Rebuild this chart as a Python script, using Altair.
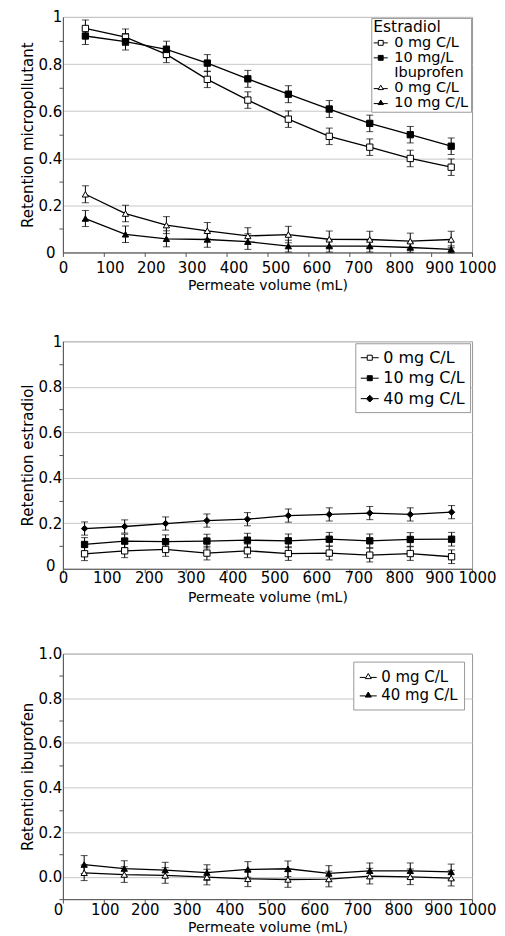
import altair as alt
import pandas as pd

FONT = "DejaVu Sans"

x_ticks = [0, 100, 200, 300, 400, 500, 600, 700, 800, 900, 1000]
y_ticks_a = [0.0, 0.1, 0.2, 0.3, 0.4, 0.5, 0.6, 0.7, 0.8, 0.9, 1.0]
y_ticks_b = [-0.1, 0.0, 0.1, 0.2, 0.3, 0.4, 0.5, 0.6, 0.7, 0.8, 0.9, 1.0]
x_title = "Permeate volume (mL)"

# ---------- Panel 1: micropollutant retention ----------
p1_x = [55, 153, 253, 353, 452, 551, 651, 750, 849, 949]
p1_estr_0 = [0.951, 0.914, 0.841, 0.735, 0.647, 0.566, 0.493, 0.447, 0.399, 0.362]
p1_estr_0_err = [0.036, 0.035, 0.035, 0.035, 0.035, 0.035, 0.035, 0.035, 0.035, 0.035]
p1_estr_10 = [0.919, 0.895, 0.862, 0.804, 0.737, 0.672, 0.609, 0.548, 0.500, 0.451]
p1_estr_10_err = [0.036, 0.035, 0.035, 0.036, 0.036, 0.036, 0.036, 0.035, 0.035, 0.035]
p1_ibu_0 = [0.247, 0.165, 0.116, 0.092, 0.070, 0.076, 0.056, 0.055, 0.048, 0.055]
p1_ibu_0_err = [0.036, 0.035, 0.036, 0.035, 0.035, 0.035, 0.035, 0.035, 0.034, 0.035]
p1_ibu_10 = [0.144, 0.077, 0.058, 0.055, 0.046, 0.027, 0.027, 0.027, 0.021, 0.013]
p1_ibu_10_err = [0.034, 0.035, 0.034, 0.033, 0.033, 0.025, 0.025, 0.025, 0.020, 0.015]
p1_legend_title = "Estradiol"
# legend entries (the trailing space keeps the two "0 mg C/L" entries distinct)
p1_legend_labels = ["0 mg C/L", "10 mg/L", "Ibuprofen", "0 mg C/L ", "10 mg C/L"]

# ---------- Panel 2: estradiol retention ----------
p2_x = [53, 151, 251, 352, 451, 551, 651, 750, 849, 950]
p2_0 = [0.066, 0.079, 0.085, 0.069, 0.079, 0.067, 0.069, 0.060, 0.067, 0.053]
p2_0_err = [0.030, 0.030, 0.030, 0.030, 0.030, 0.030, 0.030, 0.030, 0.030, 0.030]
p2_10 = [0.107, 0.122, 0.119, 0.122, 0.126, 0.123, 0.130, 0.123, 0.129, 0.130]
p2_10_err = [0.030, 0.030, 0.030, 0.030, 0.030, 0.030, 0.030, 0.030, 0.030, 0.030]
p2_40 = [0.177, 0.186, 0.199, 0.212, 0.218, 0.234, 0.239, 0.245, 0.239, 0.249]
p2_40_err = [0.029, 0.029, 0.029, 0.029, 0.029, 0.029, 0.029, 0.029, 0.029, 0.029]
p2_legend_labels = ["0 mg C/L", "10 mg C/L", "40 mg C/L"]

# ---------- Panel 3: ibuprofen retention ----------
p3_x = [52, 150, 250, 352, 452, 550, 650, 750, 849, 949]
p3_0 = [0.018, 0.010, 0.006, -0.001, -0.009, -0.012, -0.010, 0.003, 0.000, -0.006]
p3_0_err = [0.035, 0.035, 0.035, 0.035, 0.035, 0.035, 0.035, 0.035, 0.035, 0.035]
p3_40 = [0.055, 0.037, 0.030, 0.019, 0.033, 0.036, 0.015, 0.027, 0.027, 0.022]
p3_40_err = [0.040, 0.035, 0.035, 0.035, 0.035, 0.035, 0.035, 0.035, 0.035, 0.035]
p3_legend_labels = ["0 mg C/L\u00a0", "40 mg C/L\u00a0"]

# marker shapes
SQ = "square"
TRI = "triangle-up"
DIA = "diamond"
# legend symbols: marker with a line through it
L1_SQ = "M-1,0H-0.35M0.35,0H1M-0.35,-0.35H0.35V0.35H-0.35Z"
L1_TRI = "M-1,0.12H-0.32M0.32,0.12H1M0,-0.38L0.38,0.26H-0.38Z"
L_NONE = "M0,0"
L2_SQ = "M-1,0H-0.28M0.28,0H1M-0.28,-0.28H0.28V0.28H-0.28Z"
L2_DIA = "M-1,0H-0.38M0.38,0H1M0,-0.38L0.38,0L0,0.38L-0.38,0Z"
L3_TRI = "M-1,0.1H-0.32M0.32,0.1H1M0,-0.36L0.36,0.24H-0.36Z"

# small horizontal nudges of the x tick labels, as printed in the figure
P1_XLABEL_NUDGE = {100: 6, 200: 6, 300: 6, 400: 7, 500: 8, 600: 8, 700: 9, 800: 9, 900: 8, 1000: 5}
P2_XLABEL_NUDGE = {100: 3, 200: 4, 300: 5, 400: 6, 500: 7, 600: 8, 700: 9, 800: 9, 900: 8, 1000: 5}
P3_XLABEL_NUDGE = {0: -5, 100: 1, 300: 1, 400: 3, 500: 4, 600: 6, 700: 8, 800: 8, 900: 7, 1000: 5}


def build_df(x, series):
    rows = []
    for key, vals, errs in series:
        for xi, v, e in zip(x, vals, errs):
            rows.append({"x": xi, "y": v, "lo": v - e, "hi": v + e, "s": key})
    return pd.DataFrame(rows)


def panel(df, keys, shapes, fills, legend, ytitle, ydomain, yvals, yfmt,
          height, xlp, xtp, xnudge, zero_pad, zero_off):
    nudge = {"condition": [{"test": f"datum.value == {k}", "value": v}
                           for k, v in xnudge.items()], "value": 0}
    X = alt.X("x:Q", scale=alt.Scale(domain=[0, 1000], nice=False),
              axis=alt.Axis(values=x_ticks, title=x_title, format="d",
                            labelFlush=False, grid=False, tickSize=4,
                            labelPadding=xlp, titlePadding=xtp,
                            labelOffset=nudge,
                            titleFontSize=14, labelOverlap=False))
    even = "abs(round(datum.value*10)) % 2 == 0"
    yaxis = alt.Axis(values=yvals, title=ytitle, format=yfmt,
                     labelExpr=f"{even} ? datum.label : ''",
                     labelOverlap=False, labelFlush=False,
                     gridOpacity={"condition": {"test": even, "value": 1}, "value": 0},
                     tickOpacity={"condition": {"test": even, "value": 0}, "value": 1},
                     labelPadding={"condition": {"test": "datum.value == 0", "value": zero_pad}, "value": -3},
                     labelOffset={"condition": {"test": "datum.value == 0", "value": zero_off}, "value": 0},
                     tickSize=4, titlePadding=3,
                     titleFontSize=15)
    ysc = alt.Scale(domain=ydomain, nice=False, zero=False)

    base = alt.Chart(df)
    lines = base.mark_line(color="black", strokeWidth=1.3).encode(
        x=X, y=alt.Y("y:Q", scale=ysc, axis=yaxis), detail="s:N")
    bars = base.mark_rule(color="black", strokeWidth=1).encode(
        x=X, y=alt.Y("lo:Q", scale=ysc, axis=yaxis), y2="hi:Q")
    caps_lo = base.mark_tick(color="black", orient="horizontal", size=7,
                             thickness=1).encode(
        x=X, y=alt.Y("lo:Q", scale=ysc, axis=yaxis))
    caps_hi = base.mark_tick(color="black", orient="horizontal", size=7,
                             thickness=1).encode(
        x=X, y=alt.Y("hi:Q", scale=ysc, axis=yaxis))
    pts = base.mark_point(filled=True, stroke="black", strokeWidth=1,
                          opacity=1, size=40).encode(
        x=X, y=alt.Y("y:Q", scale=ysc, axis=yaxis),
        shape=alt.Shape("s:N", scale=alt.Scale(domain=keys, range=shapes), legend=None),
        fill=alt.Fill("s:N", scale=alt.Scale(domain=keys, range=fills), legend=None))

    labels, paths, lfills, lg = legend
    ldf = pd.DataFrame({"lab": labels})
    leg_layer = alt.Chart(ldf).transform_filter("false").mark_point(
        filled=True, stroke="black", strokeWidth=1, opacity=1).encode(
        shape=alt.Shape("lab:N", sort=None, scale=alt.Scale(domain=labels, range=paths), legend=lg),
        fill=alt.Fill("lab:N", sort=None, scale=alt.Scale(domain=labels, range=lfills), legend=lg),
        stroke=alt.Stroke("lab:N", sort=None, scale=alt.Scale(domain=labels, range=["black"] * len(labels)), legend=lg))
    return alt.layer(lines, bars, caps_lo, caps_hi, pts, leg_layer).resolve_scale(
        shape="independent", fill="independent", stroke="independent"
    ).properties(width=410, height=height)


# Panel 1
df1 = build_df(p1_x, [("E0", p1_estr_0, p1_estr_0_err),
                      ("E10", p1_estr_10, p1_estr_10_err),
                      ("I0", p1_ibu_0, p1_ibu_0_err),
                      ("I10", p1_ibu_10, p1_ibu_10_err)])
leg1 = alt.Legend(title=p1_legend_title, orient="top-right", offset=1,
                  symbolSize=196, labelFontSize=14.5, titleFontSize=15.5,
                  rowPadding=0, padding=2, titlePadding=0, labelOffset=6,
                  symbolStrokeWidth=1)
p1 = panel(df1, ["E0", "E10", "I0", "I10"], [SQ, SQ, TRI, TRI],
           ["white", "black", "white", "black"],
           (p1_legend_labels, [L1_SQ, L1_SQ, L_NONE, L1_TRI, L1_TRI],
            ["white", "black", "transparent", "white", "black"], leg1),
           "Retention micropollutant", [0, 1], y_ticks_a, "~g", 236, 4, 3,
           P1_XLABEL_NUDGE, 4, 0)

# Panel 2
df2 = build_df(p2_x, [("0", p2_0, p2_0_err), ("10", p2_10, p2_10_err),
                      ("40", p2_40, p2_40_err)])
leg2 = alt.Legend(title=None, orient="top-right", offset=2, symbolSize=324,
                  labelFontSize=16, rowPadding=2.5, padding=5, labelOffset=4,
                  symbolStrokeWidth=1)
p2 = panel(df2, ["0", "10", "40"], [SQ, SQ, DIA], ["white", "black", "black"],
           (p2_legend_labels, [L2_SQ, L2_SQ, L2_DIA], ["white", "black", "black"], leg2),
           "Retention estradiol", [0, 1], y_ticks_a, "~g", 228, -2, 5,
           P2_XLABEL_NUDGE, 4, -3)

# Panel 3
df3 = build_df(p3_x, [("0", p3_0, p3_0_err), ("40", p3_40, p3_40_err)])
leg3 = alt.Legend(title=None, orient="top-right", offset=8, symbolSize=289,
                  labelFontSize=15, rowPadding=1.5, padding=6, labelOffset=4,
                  symbolStrokeWidth=1)
p3 = panel(df3, ["0", "40"], [TRI, TRI], ["white", "black"],
           (p3_legend_labels, [L3_TRI, L3_TRI], ["white", "black"], leg3),
           "Retention ibuprofen", [-0.1, 1.0], y_ticks_b, ".1f", 246, -1, 3,
           P3_XLABEL_NUDGE, -3, 0)

chart = alt.vconcat(p1, p2, p3, spacing=40).properties(
    padding={"left": 11, "top": 0, "right": 0, "bottom": 0}
).configure_view(stroke="#999", strokeWidth=1).configure_axis(
    labelFont=FONT, titleFont=FONT, labelFontSize=15, titleFontWeight="normal",
    labelColor="black", titleColor="black", domainColor="#555",
    tickColor="#555", gridColor="#c8c8c8"
).configure_legend(
    labelFont=FONT, titleFont=FONT, titleFontWeight="normal",
    titleColor="black", labelColor="black", strokeColor="#999",
    fillColor="white", symbolStrokeWidth=1, symbolStrokeColor="black"
)

chart.save("out.html", embed_options={"renderer": "svg", "actions": False})
